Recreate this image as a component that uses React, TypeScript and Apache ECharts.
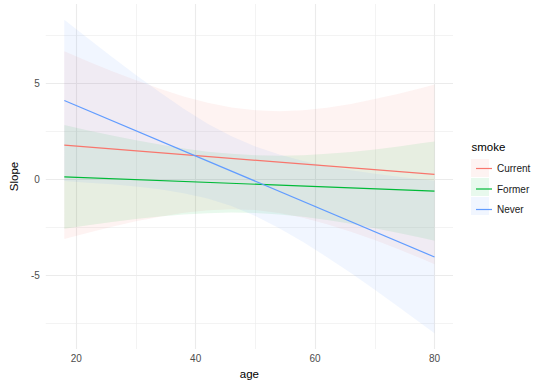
import React, { useEffect, useRef } from "react";
import * as echarts from "echarts";

// ---- data ----
const groups = ["Current", "Former", "Never"];
const lineColors = ["#F8766D", "#00BA38", "#619CFF"];
const bandColors = ["rgba(248,118,109,0.09)", "rgba(0,186,56,0.09)", "rgba(97,156,255,0.09)"];

const fitAges = [18, 80];
const currentFit = [1.77, 0.25];
const formerFit = [0.12, -0.62];
const neverFit = [4.1, -4.05];

const bandAges = [18, 22, 26, 30, 34, 38, 42, 46, 50, 54, 58, 62, 66, 70, 74, 78, 80];
const currentLower = [-3.12, -2.79, -2.48, -2.19, -1.95, -1.75, -1.62, -1.57, -1.61, -1.76, -2.01, -2.34, -2.74, -3.17, -3.65, -4.16, -4.43];
const currentUpper = [6.66, 6.13, 5.62, 5.15, 4.71, 4.31, 3.98, 3.73, 3.59, 3.54, 3.59, 3.72, 3.92, 4.17, 4.45, 4.76, 4.93];
const formerLower = [-2.58, -2.4, -2.23, -2.07, -1.94, -1.84, -1.77, -1.74, -1.76, -1.84, -1.96, -2.12, -2.32, -2.55, -2.8, -3.06, -3.2];
const formerUpper = [2.82, 2.54, 2.27, 2.03, 1.8, 1.6, 1.43, 1.32, 1.24, 1.22, 1.24, 1.32, 1.42, 1.55, 1.7, 1.88, 1.96];
const neverLower = [-0.1, -0.18, -0.26, -0.38, -0.53, -0.73, -1.01, -1.4, -1.92, -2.55, -3.27, -4.06, -4.89, -5.76, -6.65, -7.56, -8.02];
const neverUpper = [8.3, 7.32, 6.36, 5.42, 4.53, 3.67, 2.89, 2.24, 1.7, 1.29, 0.95, 0.68, 0.47, 0.28, 0.13, -0.02, -0.08];

const xMajor = [20, 40, 60, 80];
const xMinor = [30, 50, 70];
const yMajor = [-5, 0, 5];
const yMinor = [-7.5, -2.5, 2.5, 7.5];
const xRange = [14.9, 83.1];
const yRange = [-8.84, 9.12];

const FONT = "'Liberation Sans', Arial, Helvetica, sans-serif";

export default function App() {
  const ref = useRef<HTMLDivElement>(null);

  useEffect(() => {
    if (!ref.current) return;
    const chart = echarts.init(ref.current, undefined, { renderer: "svg" });

    const fits = [currentFit, formerFit, neverFit];
    const lowers = [currentLower, formerLower, neverLower];
    const uppers = [currentUpper, formerUpper, neverUpper];

    const bandSeries = groups.map((g, gi) => ({
      type: "custom",
      name: g + " band",
      z: 2,
      silent: true,
      encode: { x: 0, y: [1, 2] },
      data: bandAges.map((a, i) => [a, lowers[gi][i], uppers[gi][i]]),
      renderItem: (params: any, api: any) => {
        if (params.dataIndex !== 0) return null;
        const pts: number[][] = [];
        for (let i = 0; i < bandAges.length; i++) pts.push(api.coord([bandAges[i], uppers[gi][i]]));
        for (let i = bandAges.length - 1; i >= 0; i--) pts.push(api.coord([bandAges[i], lowers[gi][i]]));
        return {
          type: "polygon",
          shape: { points: pts },
          style: { fill: bandColors[gi], stroke: null },
        };
      },
    }));

    const lineSeries = groups.map((g, gi) => ({
      type: "line",
      name: g,
      z: 3,
      symbol: "none",
      silent: true,
      data: fitAges.map((a, i) => [a, fits[gi][i]]),
      lineStyle: { color: lineColors[gi], width: 1.2 },
      itemStyle: { color: lineColors[gi] },
    }));

    const gridLine = (width: number) => ({
      color: "#EBEBEB",
      width,
      type: "solid",
    });

    const gridSeries = {
      type: "line",
      name: "grid",
      z: 1,
      symbol: "none",
      silent: true,
      data: [[xRange[0], yRange[0]]],
      lineStyle: { opacity: 0 },
      markLine: {
        silent: true,
        symbol: ["none", "none"],
        label: { show: false },
        z: 1,
        animation: false,
        data: [
          ...xMinor.map((v) => ({ xAxis: v, lineStyle: gridLine(0.6) })),
          ...yMinor.map((v) => ({ yAxis: v, lineStyle: gridLine(0.6) })),
          ...xMajor.map((v) => ({ xAxis: v, lineStyle: gridLine(1.1) })),
          ...yMajor.map((v) => ({ yAxis: v, lineStyle: gridLine(1.1) })),
        ],
      },
    };

    chart.setOption({
      animation: false,
      backgroundColor: "#FFFFFF",
      textStyle: { fontFamily: FONT },
      grid: { left: 35.5, top: 4, width: 417.5, height: 345, containLabel: false },
      xAxis: {
        type: "value",
        min: xRange[0],
        max: xRange[1],
        name: "age",
        nameLocation: "middle",
        nameGap: 17,
        nameTextStyle: { fontSize: 11.5, color: "#000000", fontFamily: FONT },
        axisLine: { show: false },
        axisTick: { show: false },
        splitLine: { show: false },
        axisLabel: {
          customValues: xMajor,
          fontSize: 10,
          color: "#4D4D4D",
          margin: 4,
          fontFamily: FONT,
        },
      },
      yAxis: {
        type: "value",
        min: yRange[0],
        max: yRange[1],
        name: "Slope",
        nameLocation: "middle",
        nameGap: 25,
        nameTextStyle: { fontSize: 11.5, color: "#000000", fontFamily: FONT },
        axisLine: { show: false },
        axisTick: { show: false },
        splitLine: { show: false },
        axisLabel: {
          customValues: yMajor,
          fontSize: 10,
          color: "#4D4D4D",
          margin: 6,
          fontFamily: FONT,
        },
      },
      legend: {
        data: groups.map((g, gi) => ({
          name: g,
          icon: "path://M0,0H16V1.2H0Z",
          itemStyle: { color: lineColors[gi] },
        })),
        orient: "vertical",
        left: 471,
        top: 158.5,
        itemWidth: 16,
        itemHeight: 11,
        itemGap: 10.5,
        textStyle: { fontSize: 10, color: "#1A1A1A", fontFamily: FONT },
        selectedMode: false,
      },
      graphic: [
        {
          type: "text",
          left: 471.5,
          top: 141,
          style: { text: "smoke", fontSize: 11.5, fill: "#000000", fontFamily: FONT },
        },
        ...groups.map((g, gi) => ({
          type: "rect",
          shape: { x: 471, y: 159 + gi * 19, width: 18, height: 18 },
          style: { fill: bandColors[gi] },
          z: -1,
        })),
      ],
      series: [gridSeries, ...bandSeries, ...lineSeries],
    });

    return () => chart.dispose();
  }, []);

  return <div ref={ref} style={{ position: "absolute", left: 0, top: 0, width: 540, height: 386 }} />;
}
